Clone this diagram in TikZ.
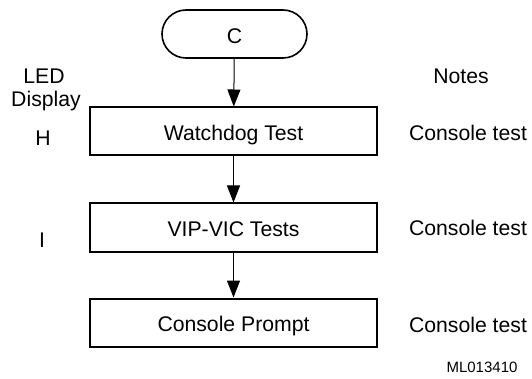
\documentclass[tikz,border=0pt]{standalone}
\usepackage{fontspec}
\setmainfont{Liberation Sans}
\usetikzlibrary{arrows.meta,shapes.misc}
\begin{document}
\begin{tikzpicture}[x=1pt,y=-1pt,
  txt/.style={font=\fontsize{21.2}{25}\selectfont, text height=15.2pt, text depth=0pt, inner sep=0pt},
  inbox/.style={txt, text height=18.2pt},
  box/.style={inbox, draw, line width=2pt, minimum width=287pt, minimum height=48pt},
  term/.style={inbox, draw, line width=1.6pt, rounded rectangle, minimum width=145pt, minimum height=48pt},
  small/.style={font=\fontsize{15}{18}\selectfont, text height=10.7pt, text depth=0pt, inner sep=0pt},
  arr/.style={-{Triangle[length=17pt,width=13pt]}, line width=1pt}]
\useasboundingbox (0,0) rectangle (532,379);
\node[term] (c) at (234.5,34) {C};
\node[box] (b1) at (233.5,131.5) {Watchdog Test};
\node[box] (b2) at (233.5,227.5) {VIP-VIC Tests};
\node[box] (b3) at (233.5,322.5) {Console Prompt};
\draw[arr] (c) -- (b1);
\draw[arr] (b1) -- (b2);
\draw[arr] (b2) -- (b3);
\node[txt] (led) at (44,76) {LED};
\node[txt] (disp) at (46,99) {Display};
\node[txt] (h) at (43,137.5) {H};
\node[txt] (i) at (42,240) {I};
\node[txt] (notes) at (461,76) {Notes};
\node[txt] (n1) at (468,132.5) {Console test};
\node[txt] (n2) at (468,227.5) {Console test};
\node[txt] (n3) at (468,324.5) {Console test};
\node[small] (ml) at (482,367) {ML013410};
\end{tikzpicture}
\end{document}
